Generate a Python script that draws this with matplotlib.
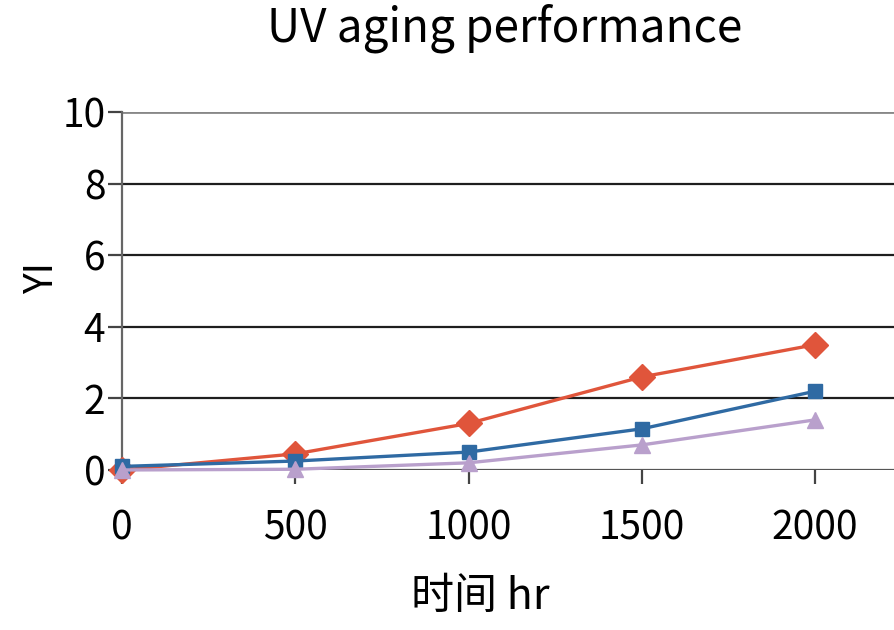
import matplotlib
matplotlib.use("Agg")
import matplotlib.pyplot as plt

plt.rcParams["font.family"] = ["Noto Sans CJK SC", "DejaVu Sans"]

hours = [0, 500, 1000, 1500, 2000]
yi_red = [0.0, 0.45, 1.3, 2.6, 3.5]
yi_blue = [0.1, 0.25, 0.5, 1.15, 2.2]
yi_purple = [0.0, 0.02, 0.2, 0.7, 1.4]

fig = plt.figure(figsize=(8.94, 6.3), dpi=100)
ax = fig.add_axes([0.1365, 0.254, 0.8635, 0.568])

for y in [2, 4, 6, 8]:
    ax.axhline(y, color="#1e1e1e", lw=1.6, zorder=1)
ax.axhline(10, color="#888888", lw=2.0, zorder=1)
ax.axhline(0, color="#555555", lw=1.6, zorder=1)

ax.plot(hours, yi_red, color="#E0553B", lw=2.4, marker="D", ms=13, zorder=3, clip_on=False)
ax.plot(hours, yi_blue, color="#2F6AA3", lw=2.4, marker="s", ms=10, zorder=4, clip_on=False)
ax.plot(hours, yi_purple, color="#B9A0CC", lw=2.4, marker="^", ms=11, zorder=5, clip_on=False)

ax.set_xlim(0, 2228)
ax.set_ylim(0, 10)
ax.set_xticks(hours)
ax.set_yticks([0, 2, 4, 6, 8, 10])
ax.tick_params(axis="both", labelsize=28, length=10, width=1.6, color="#444444", pad=2)
ax.tick_params(axis="x", pad=18)

for s in ["top", "right", "bottom"]:
    ax.spines[s].set_visible(False)
ax.spines["left"].set_color("#666666")
ax.spines["left"].set_linewidth(1.6)

ax.set_ylabel("YI", fontsize=28, va="center")
ax.yaxis.set_label_coords(-0.104, 0.536)
ax.set_xlabel("时间 hr", fontsize=31, va="center")
ax.xaxis.set_label_coords(0.464, -0.355)
fig.text(0.565, 0.955, "UV aging performance", fontsize=33, ha="center", va="center")

fig.savefig("out.png", dpi=100)
